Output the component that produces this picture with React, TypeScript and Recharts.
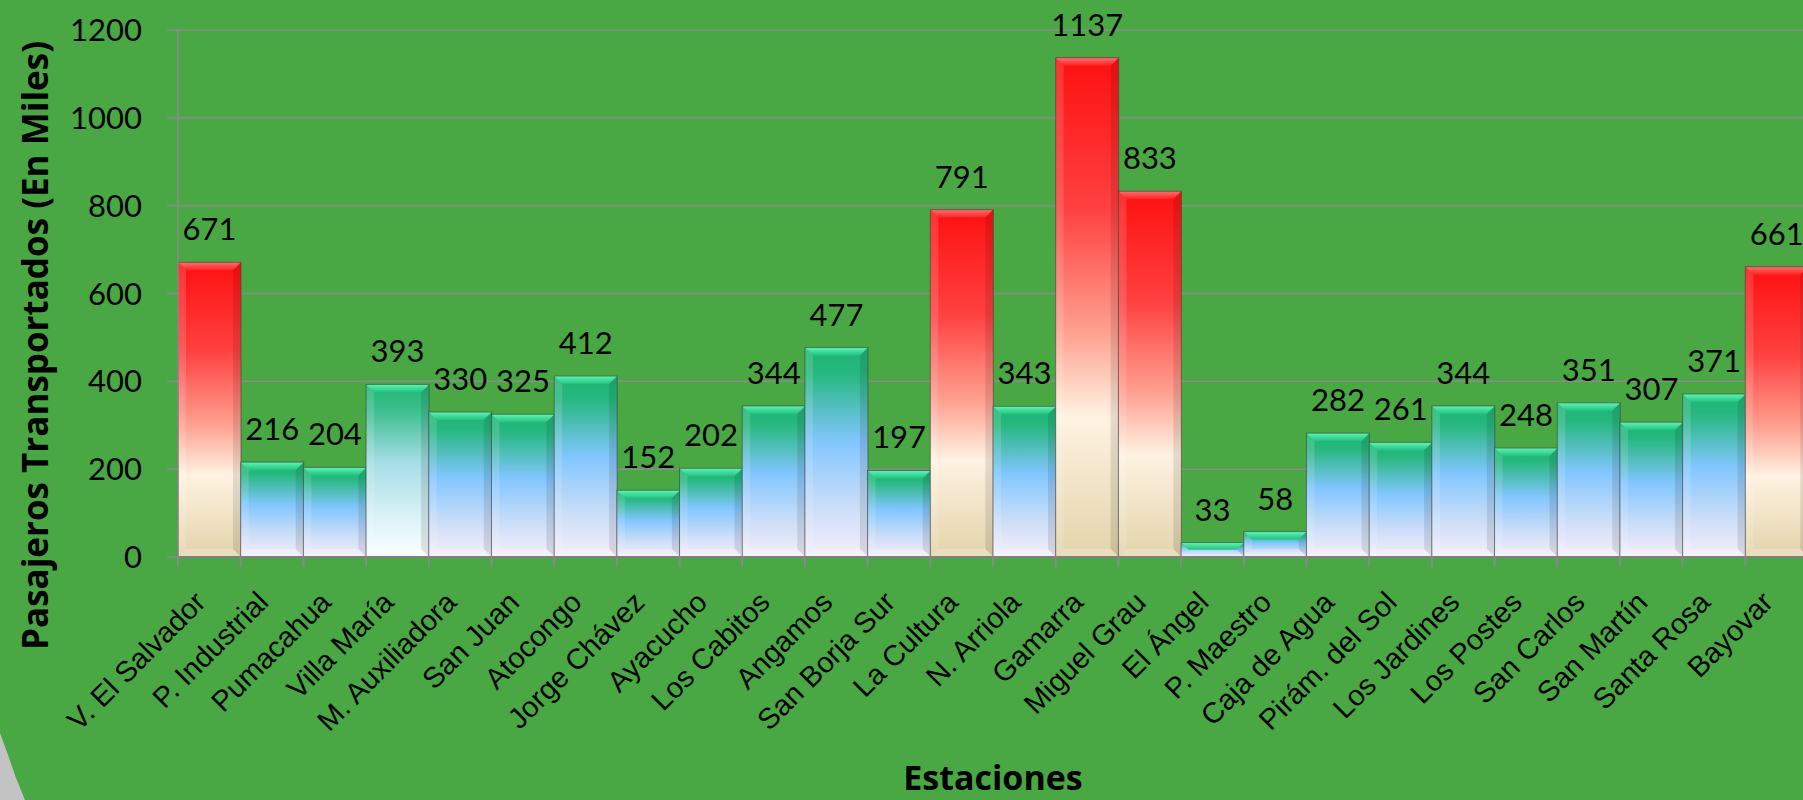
import { BarChart, Bar, XAxis, YAxis, CartesianGrid, LabelList } from 'recharts';

const stations = [
  'V. El Salvador', 'P. Industrial', 'Pumacahua', 'Villa María', 'M. Auxiliadora',
  'San Juan', 'Atocongo', 'Jorge Chávez', 'Ayacucho', 'Los Cabitos', 'Angamos',
  'San Borja Sur', 'La Cultura', 'N. Arriola', 'Gamarra', 'Miguel Grau', 'El Ángel',
  'P. Maestro', 'Caja de Agua', 'Pirám. del Sol', 'Los Jardines', 'Los Postes',
  'San Carlos', 'San Martín', 'Santa Rosa', 'Bayovar',
];
const passengers = [
  671, 216, 204, 393, 330, 325, 412, 152, 202, 344, 477, 197, 791, 343, 1137, 833,
  33, 58, 282, 261, 344, 248, 351, 307, 371, 661,
];
const yTicks = [0, 200, 400, 600, 800, 1000, 1200];
const yTitle = 'Pasajeros Transportados (En Miles)';
const xTitle = 'Estaciones';

const data = stations.map((name, i) => ({ name, value: passengers[i] }));

const NUM_FONT = 'Lato, "Open Sans", sans-serif';
const TITLE_FONT = '"Open Sans", Lato, sans-serif';
const LABEL_FONT = '"Liberation Sans", Arial, sans-serif';

function toneOf(index: number) {
  if (passengers[index] >= 600) return 'red';
  if (stations[index] === 'Villa María') return 'aqua';
  return 'blue';
}

function BevelBar(props: any) {
  const { x, y, width, height, index } = props;
  if (!height || height <= 0) return null;
  const tone = toneOf(index);
  const b = Math.min(8, height / 2, width / 2);
  const r = x + width;
  const bt = y + height;
  return (
    <g>
      <rect x={x} y={y} width={width} height={height} fill={`url(#body-${tone})`} />
      <polygon
        points={`${x},${y} ${r},${y} ${r - b},${y + b} ${x + b},${y + b}`}
        fill={`url(#top-${tone})`}
      />
      <polygon
        points={`${x},${y} ${x + b},${y + b} ${x + b},${bt - b} ${x},${bt}`}
        fill="#ffffff"
        fillOpacity={0.14}
      />
      <polygon
        points={`${r},${y} ${r - b},${y + b} ${r - b},${bt - b} ${r},${bt}`}
        fill="#000000"
        fillOpacity={0.1}
      />
      <polygon
        points={`${x},${bt} ${x + b},${bt - b} ${r - b},${bt - b} ${r},${bt}`}
        fill="#ffffff"
        fillOpacity={0.22}
      />
      <rect
        x={x}
        y={y}
        width={width}
        height={height}
        fill="none"
        stroke="#3f3f3f"
        strokeOpacity={0.6}
        strokeWidth={1}
      />
    </g>
  );
}

function StationTick(props: any) {
  const { x, y, payload, index } = props;
  const half = payload && payload.offset ? payload.offset : 1630 / stations.length / 2;
  const last = index === stations.length - 1;
  const ax = x - 2;
  const ay = y + 47;
  return (
    <g>
      <line x1={x - half} y1={y} x2={x - half} y2={y + 10} stroke="#8a8a8a" strokeWidth={2} />
      {last && <line x1={x + half} y1={y} x2={x + half} y2={y + 10} stroke="#8a8a8a" strokeWidth={2} />}
      <text
        x={ax}
        y={ay}
        transform={`rotate(-45 ${ax} ${ay})`}
        textAnchor="end"
        fontFamily={LABEL_FONT}
        fontSize={29}
        fill="#000"
      >
        {payload.value}
      </text>
    </g>
  );
}

function YTitle(props: any) {
  const { viewBox } = props;
  const cx = viewBox.x + 34;
  const cy = viewBox.y + viewBox.height / 2 + 52;
  return (
    <text
      x={cx}
      y={cy}
      transform={`rotate(-90 ${cx} ${cy})`}
      textAnchor="middle"
      dominantBaseline="central"
      fontFamily={TITLE_FONT}
      fontWeight={700}
      fontSize={35}
      fill="#000"
    >
      {yTitle}
    </text>
  );
}

function XTitle(props: any) {
  const { viewBox } = props;
  return (
    <text
      x={viewBox.x + viewBox.width / 2}
      y={790}
      textAnchor="middle"
      fontFamily={TITLE_FONT}
      fontWeight={700}
      fontSize={34}
      fill="#000"
    >
      {xTitle}
    </text>
  );
}

function App() {
  return (
    <div
      style={{
        position: 'absolute',
        left: 0,
        top: 0,
        width: 1803,
        height: 800,
        overflow: 'hidden',
        background: '#c3c3c3',
      }}
    >
      <div
        style={{
          position: 'absolute',
          left: 0,
          top: 0,
          width: 1803,
          height: 800,
          background: '#49a843',
          clipPath: 'polygon(0 0, 100% 0, 100% 100%, 25px 100%, 16px 778px, 8px 755px, 0 733px)',
        }}
      />
      <div style={{ position: 'absolute', left: 0, top: 0 }}>
        <BarChart
          width={1812}
          height={800}
          data={data}
          margin={{ top: 30, right: 4, bottom: 0, left: 0 }}
          barCategoryGap={0}
          barGap={0}
        >
          <defs>
            <linearGradient id="body-red" x1="0" y1="0" x2="0" y2="1">
              <stop offset="0" stopColor="#ff1010" />
              <stop offset="0.3" stopColor="#ff4040" />
              <stop offset="0.55" stopColor="#ffa090" />
              <stop offset="0.72" stopColor="#fff2e2" />
              <stop offset="1" stopColor="#e2d4aa" />
            </linearGradient>
            <linearGradient id="top-red" x1="0" y1="0" x2="0" y2="1">
              <stop offset="0" stopColor="#ff7070" />
              <stop offset="1" stopColor="#ff2222" />
            </linearGradient>
            <linearGradient id="body-blue" x1="0" y1="0" x2="0" y2="1">
              <stop offset="0" stopColor="#1fb574" />
              <stop offset="0.12" stopColor="#25b87e" />
              <stop offset="0.45" stopColor="#82c6ff" />
              <stop offset="0.75" stopColor="#c9ddf8" />
              <stop offset="1" stopColor="#f7eefb" />
            </linearGradient>
            <linearGradient id="top-blue" x1="0" y1="0" x2="0" y2="1">
              <stop offset="0" stopColor="#5ef5b2" />
              <stop offset="1" stopColor="#22c282" />
            </linearGradient>
            <linearGradient id="body-aqua" x1="0" y1="0" x2="0" y2="1">
              <stop offset="0" stopColor="#1fb574" />
              <stop offset="0.15" stopColor="#3cbf8e" />
              <stop offset="0.45" stopColor="#a6dde6" />
              <stop offset="0.75" stopColor="#d8f1f5" />
              <stop offset="1" stopColor="#fbffff" />
            </linearGradient>
            <linearGradient id="top-aqua" x1="0" y1="0" x2="0" y2="1">
              <stop offset="0" stopColor="#5ef5b2" />
              <stop offset="1" stopColor="#22c282" />
            </linearGradient>
          </defs>
          <CartesianGrid vertical={false} stroke="#8c8c8c" strokeWidth={1.5} />
          <XAxis
            dataKey="name"
            interval={0}
            height={243}
            tickSize={0}
            tickMargin={0}
            tickLine={false}
            axisLine={{ stroke: '#808080', strokeWidth: 2 }}
            tick={<StationTick />}
            label={<XTitle />}
          />
          <YAxis
            width={178}
            domain={[0, 1200]}
            ticks={yTicks}
            tickSize={11}
            tickMargin={25}
            axisLine={{ stroke: '#8c8c8c', strokeWidth: 1.5 }}
            tickLine={{ stroke: '#8c8c8c', strokeWidth: 1.5 }}
            tick={{ fill: '#000', fontSize: 31, fontFamily: NUM_FONT }}
            label={<YTitle />}
          />
          <Bar dataKey="value" isAnimationActive={false} shape={<BevelBar />}>
            <LabelList
              dataKey="value"
              position="top"
              offset={22}
              fill="#000"
              fontSize={31}
              fontFamily={NUM_FONT}
            />
          </Bar>
        </BarChart>
      </div>
    </div>
  );
}

export default App;
